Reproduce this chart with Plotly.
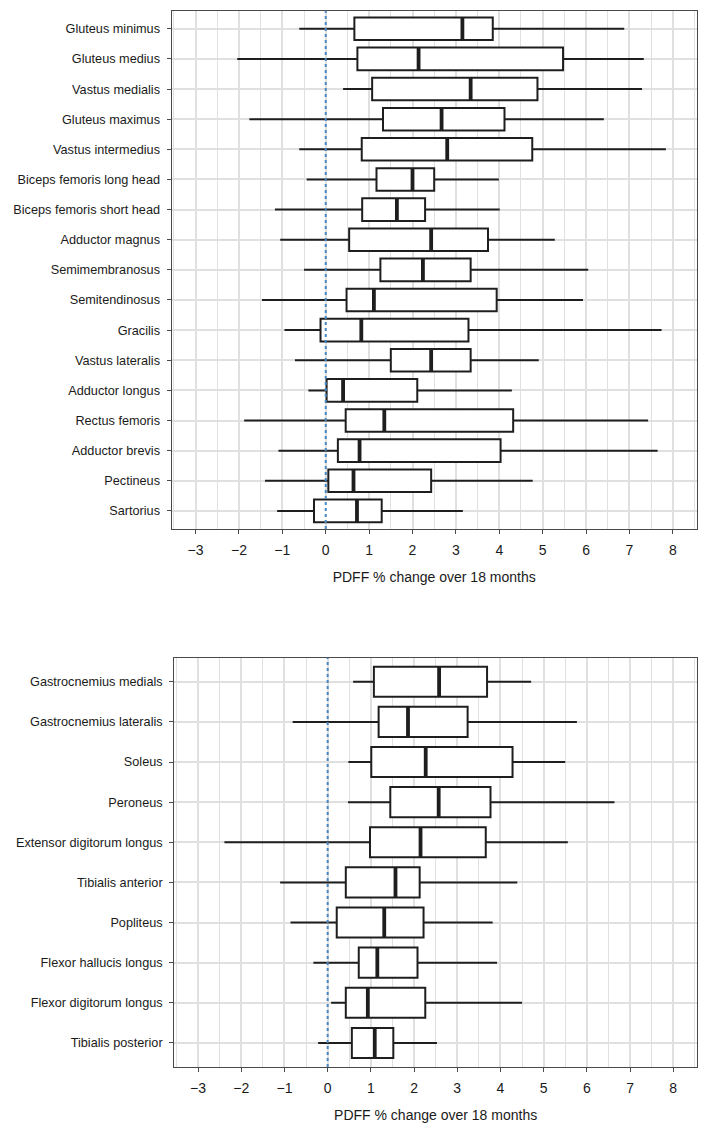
import plotly.graph_objects as go

# ---- Data: upper panel (thigh / hip muscles), top to bottom ----
top_names = ["Gluteus minimus", "Gluteus medius", "Vastus medialis", "Gluteus maximus",
             "Vastus intermedius", "Biceps femoris long head", "Biceps femoris short head",
             "Adductor magnus", "Semimembranosus", "Semitendinosus", "Gracilis",
             "Vastus lateralis", "Adductor longus", "Rectus femoris", "Adductor brevis",
             "Pectineus", "Sartorius"]
top_low = [-0.61, -2.04, 0.40, -1.76, -0.61, -0.44, -1.17, -1.05, -0.50, -1.47, -0.95,
           -0.71, -0.40, -1.88, -1.09, -1.40, -1.12]
top_q1 = [0.66, 0.73, 1.07, 1.32, 0.83, 1.17, 0.84, 0.54, 1.26, 0.48, -0.12,
          1.50, 0.02, 0.46, 0.28, 0.06, -0.27]
top_med = [3.15, 2.14, 3.34, 2.67, 2.80, 2.00, 1.64, 2.43, 2.24, 1.11, 0.82,
           2.43, 0.40, 1.35, 0.78, 0.64, 0.72]
top_q3 = [3.85, 5.47, 4.88, 4.12, 4.76, 2.50, 2.29, 3.74, 3.34, 3.94, 3.29,
          3.34, 2.11, 4.32, 4.03, 2.43, 1.29]
top_high = [6.88, 7.33, 7.29, 6.41, 7.84, 3.99, 4.01, 5.28, 6.05, 5.93, 7.74,
            4.91, 4.29, 7.43, 7.65, 4.77, 3.16]

# ---- Data: lower panel (lower-leg muscles), top to bottom ----
bot_names = ["Gastrocnemius medials", "Gastrocnemius lateralis", "Soleus", "Peroneus",
             "Extensor digitorum longus", "Tibialis anterior", "Popliteus",
             "Flexor hallucis longus", "Flexor digitorum longus", "Tibialis posterior"]
bot_low = [0.59, -0.81, 0.48, 0.47, -2.39, -1.10, -0.86, -0.33, 0.08, -0.22]
bot_q1 = [1.07, 1.18, 1.01, 1.45, 0.98, 0.42, 0.21, 0.72, 0.42, 0.56]
bot_med = [2.58, 1.86, 2.27, 2.57, 2.15, 1.57, 1.31, 1.15, 0.93, 1.09]
bot_q3 = [3.69, 3.24, 4.28, 3.77, 3.66, 2.13, 2.22, 2.08, 2.26, 1.52]
bot_high = [4.71, 5.77, 5.50, 6.64, 5.56, 4.39, 3.82, 3.92, 4.50, 2.53]

x_ticks = [-3, -2, -1, 0, 1, 2, 3, 4, 5, 6, 7, 8]
x_title = "PDFF % change over 18 months"

W, H = 709, 1129
OFF = 8  # page body margin offset
BOX_W = 0.75
FONT = "Liberation Sans, Arial, Helvetica, sans-serif"
LINE = "#1e1e1e"
GRID = "#e0e0e0"

fig = go.Figure()


def add_panel(names, low, q1, med, q3, high, xa, ya):
    n = len(names)
    pos = [n - i for i in range(n)]
    fig.add_trace(go.Box(
        y=pos, q1=q1, median=med, q3=q3, lowerfence=low, upperfence=high,
        orientation="h", width=BOX_W, whiskerwidth=0,
        fillcolor="white", line=dict(color=LINE, width=2),
        boxpoints=False, hoverinfo="skip", showlegend=False,
        xaxis=xa, yaxis=ya))
    mx, my = [], []
    for p, m in zip(pos, med):
        mx += [m, m, None]
        my += [p - BOX_W / 2, p + BOX_W / 2, None]
    fig.add_trace(go.Scatter(x=mx, y=my, mode="lines",
                             line=dict(color=LINE, width=3.8),
                             hoverinfo="skip", showlegend=False,
                             xaxis=xa, yaxis=ya))
    return pos


pos_top = add_panel(top_names, top_low, top_q1, top_med, top_q3, top_high, "x", "y")
pos_bot = add_panel(bot_names, bot_low, bot_q1, bot_med, bot_q3, bot_high, "x2", "y2")

xcommon = dict(range=[-3.55, 8.55], tickmode="array", tickvals=x_ticks,
               ticktext=[("\u2212" + str(-v)) if v < 0 else str(v) for v in x_ticks],
               showgrid=True, gridcolor=GRID, gridwidth=1.5, zeroline=False,
               minor=dict(dtick=0.5, showgrid=True, gridcolor=GRID, gridwidth=1.3,
                          ticks=""),
               showline=True, mirror=True, linecolor="#4a4a4a", linewidth=1.3,
               ticks="outside", ticklen=4, tickcolor="#4a4a4a", tickwidth=1.3,
               ticklabelstandoff=4, automargin=False,
               tickfont=dict(family=FONT, size=14, color="#1a1a1a"),
               title=dict(text=x_title, font=dict(family=FONT, size=14, color="#1a1a1a"),
                          standoff=15))
ycommon = dict(tickmode="array", showgrid=True, gridcolor=GRID, gridwidth=1.5,
               zeroline=False, showline=True, mirror=True, linecolor="#4a4a4a",
               linewidth=1.3, ticks="outside", ticklen=4, tickcolor="#4a4a4a",
               tickwidth=1.3, automargin=False, ticklabelstandoff=4,
               tickfont=dict(family=FONT, size=12.7, color="#1a1a1a"))

top_x0, top_x1 = 171.7 - OFF, 696.7 - OFF
bot_x0, bot_x1 = 174.3 - OFF, 697.0 - OFF
top_y0, top_y1 = 10.7 - OFF, 529.0 - OFF
bot_y0, bot_y1 = 657.7 - OFF, 1067.0 - OFF

fig.update_layout(
    template="none",
    width=W, height=H, plot_bgcolor="white", paper_bgcolor="white",
    margin=dict(l=0, r=0, t=0, b=0, autoexpand=False),
    xaxis=dict(xcommon, domain=[top_x0 / W, top_x1 / W], anchor="y"),
    yaxis=dict(ycommon, domain=[1 - top_y1 / H, 1 - top_y0 / H], anchor="x",
               range=[0.4, len(top_names) + 0.6], tickvals=pos_top, ticktext=top_names),
    xaxis2=dict(xcommon, domain=[bot_x0 / W, bot_x1 / W], anchor="y2"),
    yaxis2=dict(ycommon, domain=[1 - bot_y1 / H, 1 - bot_y0 / H], anchor="x2",
                range=[0.4, len(bot_names) + 0.6], tickvals=pos_bot, ticktext=bot_names),
    shapes=[
        dict(type="line", xref="x", yref="y domain", x0=0, x1=0, y0=0, y1=1,
             line=dict(color="#4a86c0", width=2, dash="dot"), layer="above"),
        dict(type="line", xref="x2", yref="y2 domain", x0=0, x1=0, y0=0, y1=1,
             line=dict(color="#4a86c0", width=2, dash="dot"), layer="above"),
    ],
)

fig.write_html("out.html")
